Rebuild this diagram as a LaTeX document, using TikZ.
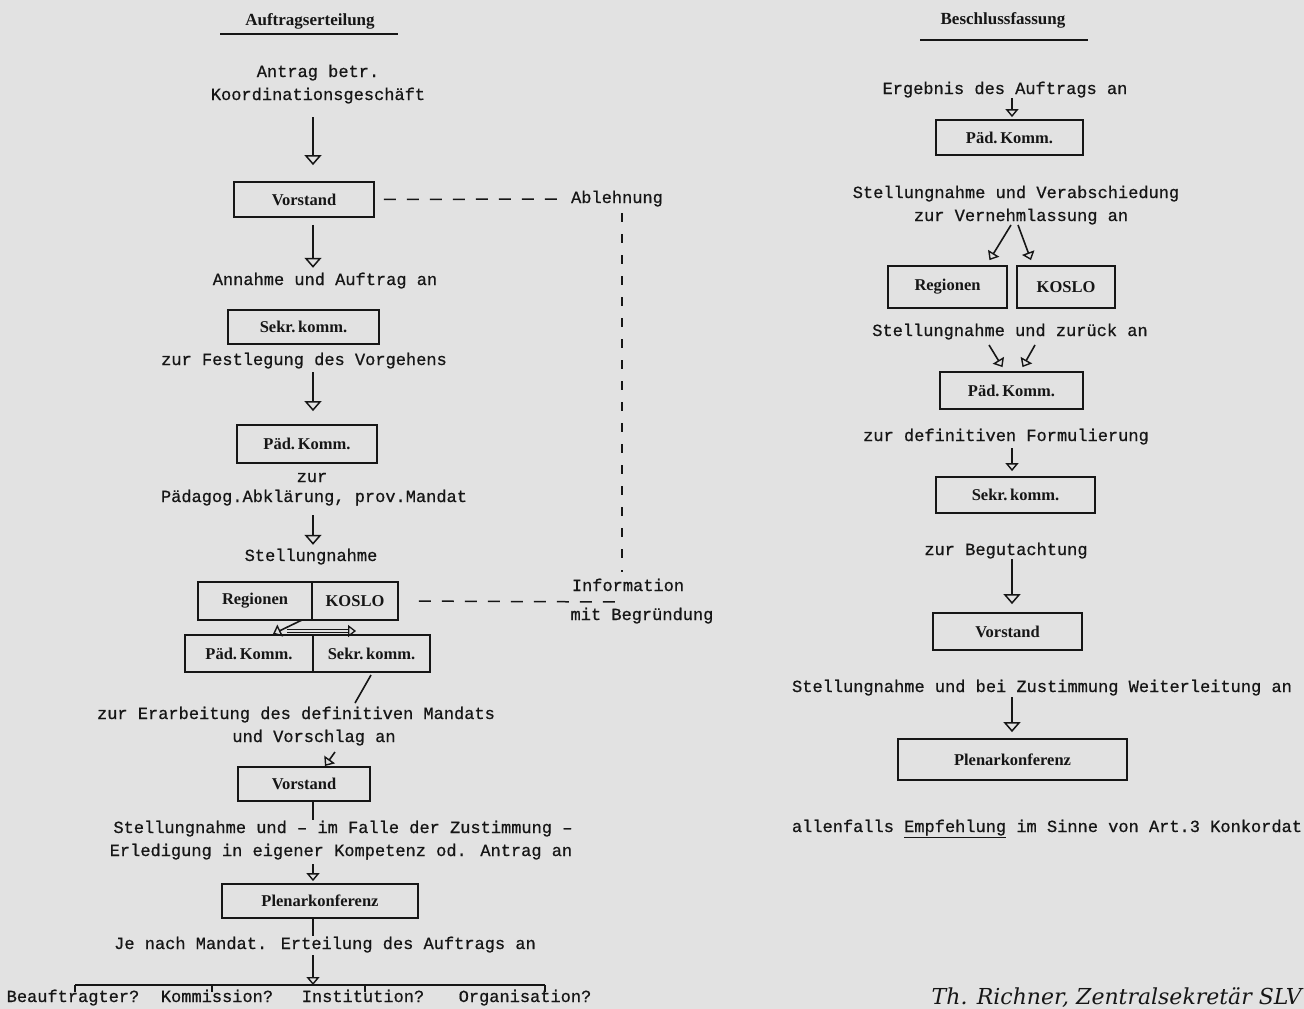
\documentclass[tikz,border=0pt]{standalone}
\usepackage{fontspec}
\setmainfont{Liberation Serif}
\setmonofont{Liberation Mono}
\newfontfamily\twfont{Liberation Mono}[FakeBold=0.7]
\newfontfamily\sigfont{DejaVu Serif}
\usetikzlibrary{arrows.meta,calc}
\definecolor{paper}{RGB}{226,226,226}
\definecolor{ink}{RGB}{22,22,22}
\begin{document}
\begin{tikzpicture}[x=1pt,y=-1pt,
  tw/.style={font=\twfont\fontsize{17}{23}\selectfont, inner sep=0pt, text=ink, align=center, text height=12pt, text depth=4pt},
  hd/.style={font=\bfseries\fontsize{17}{20}\selectfont, inner sep=0pt, text=ink},
  bx/.style={draw=ink, line width=1.8pt, font=\bfseries\fontsize{16.5}{18}\selectfont, text=ink, inner sep=0pt},
  ln/.style={draw=ink, line width=1.6pt},
  arrL/.style={ln, -{Triangle[open, width=17pt, length=10pt, line width=1.5pt]}},
  arrS/.style={ln, -{Triangle[open, width=13pt, length=8pt, line width=1.4pt]}},
  dsh/.style={draw=ink, line width=1.5pt, dash pattern=on 12pt off 11pt},
  dshv/.style={draw=ink, line width=1.4pt, dash pattern=on 9pt off 12pt}]
\fill[paper] (0,0) rectangle (1304,1009);
\useasboundingbox (0,0) rectangle (1304,1009);

% ---------------- left column: Auftragserteilung
\coordinate (axL) at (313,0);
\coordinate (dashx) at (622,0);
\node[hd] (h1) at (310,21) {Auftragserteilung};
\coordinate (u1a) at (220,34); \coordinate (u1b) at (398,34);
\draw[ln] (u1a) -- (u1b);

\node[tw] (antrag) at (318,96) {Antrag betr.\\Koordinationsgeschäft};
\node[bx, minimum width=140pt, minimum height=35pt] (vs1) at (304,199.5) {Vorstand};
\node[tw] (ablehnung) at (617,199) {Ablehnung};
\node[tw] (annahme) at (325,281) {Annahme und Auftrag an};
\node[bx, minimum width=151pt, minimum height=34pt] (sk1) at (303.5,327) {Sekr.\,komm.};
\node[tw] (festleg) at (304,361) {zur Festlegung des Vorgehens};
\node[bx, minimum width=140pt, minimum height=38pt] (pk1) at (307,444) {Päd.\,Komm.};
\node[tw] (zur1) at (312,478) {zur};
\node[tw] (paedagog) at (314,498) {Pädagog.Abklärung, prov.Mandat};
\node[tw] (stell1) at (311,557) {Stellungnahme};
\node[bx, minimum width=114pt, minimum height=38pt] (reg1) at (255,601) {Regionen};
\node[bx, minimum width=86pt, minimum height=38pt] (ko1) at (355,601) {KOSLO};
\node[tw] (info) at (628,587) {Information};
\node[tw] (mitbeg) at (642,616) {mit Begründung};
\node[bx, minimum width=128pt, minimum height=37pt] (pk2) at (249,653.5) {Päd.\,Komm.};
\node[bx, minimum width=117pt, minimum height=37pt] (sk2) at (371.5,653.5) {Sekr.\,komm.};
\node[tw] (erarb1) at (296,715) {zur Erarbeitung des definitiven Mandats};
\node[tw] (erarb2) at (314,738) {und Vorschlag an};
\node[bx, minimum width=132pt, minimum height=34pt] (vs2) at (304,784) {Vorstand};
\node[tw] (stell2) at (343,829) {Stellungnahme und – im Falle der Zustimmung –};
\node[tw] (erled) at (341,852) {Erledigung in eigener Kompetenz od. Antrag an};
\node[bx, minimum width=196pt, minimum height=34pt] (pl1) at (320,901) {Plenarkonferenz};
\node[tw] (jenach) at (325,945) {Je nach Mandat. Erteilung des Auftrags an};
\node[tw] (w1) at (73,998) {Beauftragter?};
\node[tw] (w2) at (217,998) {Kommission?};
\node[tw] (w3) at (363,998) {Institution?};
\node[tw] (w4) at (525,998) {Organisation?};

% connectors left
\draw[arrL, shorten <=13pt, shorten >=16pt] (antrag.south -| axL) -- (vs1.north -| axL);
\draw[arrL, shorten <=7pt, shorten >=5pt] (vs1.south -| axL) -- (annahme.north -| axL);
\draw[arrL, shorten <=3pt, shorten >=13pt] (festleg.south -| axL) -- (pk1.north -| axL);
\draw[arrL, shorten <=9pt, shorten >=4pt] (paedagog.south -| axL) -- (stell1.north -| axL);
\draw[dsh, shorten <=9pt, shorten >=5pt] (vs1.east) -- (ablehnung.west);
\draw[dshv, shorten <=6pt, shorten >=7pt] (ablehnung.south -| dashx) -- (info.north -| dashx);
\coordinate (dend) at (623,602);
\draw[dsh, shorten <=20pt] (ko1.east) -- (dend);
\coordinate (ra) at (302,620); \coordinate (rb) at (273,634);
\draw[arrS] (ra) -- (rb);
\coordinate (da) at (287,631); \coordinate (db) at (356,631);
\draw[draw=ink, line width=1.1pt, double=paper, double distance=2pt, -{Triangle[open, width=12pt, length=8pt, line width=1.3pt]}] (da) -- (db);
\coordinate (sa) at (371,675); \coordinate (sb) at (355,703);
\draw[ln] (sa) -- (sb);
\coordinate (va) at (335,752); \coordinate (vb) at (325,766);
\draw[arrS] (va) -- (vb);
\draw[ln, shorten >=1pt] (vs2.south -| axL) -- (stell2.north -| axL);
\draw[arrS, shorten <=4pt, shorten >=2pt] (erled.south -| axL) -- (pl1.north -| axL);
\draw[ln, shorten >=1pt] (pl1.south -| axL) -- (jenach.north -| axL);
\coordinate (barL) at (75,985); \coordinate (barR) at (545,985);
\draw[arrS, shorten <=2pt] (jenach.south -| axL) -- (barL -| axL);
\draw[ln] (barL) -- (barR);
\draw[ln] (barL) -- ++(0,7) (212,985) -- ++(0,7) (365,985) -- ++(0,7) (barR) -- ++(0,7);

% ---------------- right column: Beschlussfassung
\node[hd] (h2) at (1003,20) {Beschlussfassung};
\coordinate (u2a) at (920,40); \coordinate (u2b) at (1088,40);
\draw[ln] (u2a) -- (u2b);
\node[tw] (ergebnis) at (1005,90) {Ergebnis des Auftrags an};
\node[bx, minimum width=147pt, minimum height=35pt] (pk3) at (1009.5,137.5) {Päd.\,Komm.};
\node[tw] (verab1) at (1016,194) {Stellungnahme und Verabschiedung};
\node[tw] (verab2) at (1021,217) {zur Vernehmlassung an};
\node[bx, minimum width=119pt, minimum height=42pt] (reg3) at (947.5,287) {Regionen};
\node[bx, minimum width=98pt, minimum height=42pt] (ko3) at (1066,287) {KOSLO};
\node[tw] (zurueck) at (1010,332) {Stellungnahme und zurück an};
\node[bx, minimum width=143pt, minimum height=37pt] (pk4) at (1011.5,390.5) {Päd.\,Komm.};
\node[tw] (formul) at (1006,437) {zur definitiven Formulierung};
\node[bx, minimum width=159pt, minimum height=36pt] (sk4) at (1015.5,495) {Sekr.\,komm.};
\node[tw] (begut) at (1006,551) {zur Begutachtung};
\node[bx, minimum width=149pt, minimum height=37pt] (vs4) at (1007.5,631.5) {Vorstand};
\node[tw] (weiter) at (1042,688) {Stellungnahme und bei Zustimmung Weiterleitung an};
\node[bx, minimum width=229pt, minimum height=41pt] (pl4) at (1012.5,759.5) {Plenarkonferenz};
\node[tw] (empf) at (1047,828) {allenfalls \underline{Empfehlung} im Sinne von Art.3 Konkordat};
\node[font=\sigfont\itshape\fontsize{22}{24}\selectfont, text=ink, inner sep=0pt, anchor=east] (sig) at (1302,998) {Th. Richner, Zentralsekretär SLV};

\coordinate (axR) at (1012,0);
\draw[arrS, shorten <=0pt, shorten >=2pt] (ergebnis.south -| axR) -- (pk3.north -| axR);
\coordinate (v1) at (1011,225); \coordinate (v2) at (1018,225);
\draw[arrS] (v1) -- ($(reg3.north)+(42,-5)$);
\draw[arrS] (v2) -- ($(ko3.north)+(-35,-5)$);
\coordinate (z1) at (989,345); \coordinate (z2) at (1035,345);
\draw[arrS] (z1) -- ($(pk4.north)+(-9,-4)$);
\draw[arrS] (z2) -- ($(pk4.north)+(11,-4)$);
\draw[arrS, shorten <=3pt, shorten >=5pt] (formul.south -| axR) -- (sk4.north -| axR);
\draw[arrL, shorten <=0pt, shorten >=8pt] (begut.south -| axR) -- (vs4.north -| axR);
\draw[arrL, shorten <=1pt, shorten >=6pt] (weiter.south -| axR) -- (pl4.north -| axR);
\end{tikzpicture}
\end{document}
